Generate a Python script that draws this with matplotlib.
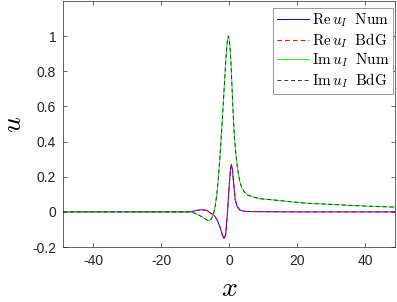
import numpy as np
import matplotlib
matplotlib.use('Agg')
import matplotlib.pyplot as plt

plt.rcParams['mathtext.fontset'] = 'cm'
plt.rcParams['font.family'] = ['Liberation Sans', 'DejaVu Sans']

# values
x_re = [-48.8, -20, -12, -10.5, -9, -8, -7, -6.2, -5.5, -4.8, -4.1, -3.4, -2.6, -2.0,
        -1.5, -1.0, -0.45, 0.0, 0.4, 0.7, 1.0, 1.4, 1.8, 2.4, 3.2, 4.5, 6, 10, 20, 48.8]
re_u = [0.0, 0.0, 0.0, 0.004, 0.010, 0.012, 0.010, 0.004, -0.006, -0.015, -0.027, -0.05, -0.09, -0.13,
        -0.152, -0.13, 0.0, 0.14, 0.24, 0.27, 0.24, 0.15, 0.07, 0.03, 0.01, 0.003, 0.002, 0.001, 0.0, 0.0]

x_im = [-48.8, -20, -12, -11, -10, -9, -8, -7, -6.1, -5.2, -4.6, -4.1, -3.6, -3.2, -2.8,
        -2.4, -2.0, -1.6, -1.3, -1.0, -0.7, -0.45, -0.2, 0.05, 0.3, 0.55, 0.8, 1.05, 1.3,
        1.6, 2.0, 2.4, 2.8, 3.2, 3.8, 4.5, 5.5, 7, 9, 13, 18, 23, 32.6, 40, 48.8]
im_u = [0.0, 0.0, 0.0, -0.002, -0.008, -0.017, -0.028, -0.040, -0.051, -0.040, -0.015, 0.03, 0.10, 0.18, 0.28,
        0.40, 0.52, 0.65, 0.75, 0.85, 0.93, 0.98, 1.0, 0.98, 0.93, 0.85, 0.74, 0.62, 0.52,
        0.42, 0.33, 0.26, 0.21, 0.17, 0.135, 0.113, 0.096, 0.085, 0.075, 0.068, 0.058, 0.049, 0.040, 0.033, 0.027]

xticks = [-40, -20, 0, 20, 40]
yticks = [-0.2, 0, 0.2, 0.4, 0.6, 0.8, 1]
ytick_labels = ['-0.2', '0', '0.2', '0.4', '0.6', '0.8', '1']

fig = plt.figure(figsize=(3.97, 3.02), dpi=100)
ax = fig.add_axes([0.159, 0.182, 0.836, 0.815])

ax.plot(x_re, re_u, color='#0000ff', lw=0.7, label=r'$\mathrm{Re}\,u_I\;\ \mathrm{Num}$')
ax.plot(x_re, re_u, '--', color='#ff0000', lw=0.8, dashes=(4, 3), label=r'$\mathrm{Re}\,u_I\;\ \mathrm{BdG}$')
ax.plot(x_im, im_u, color='#22ee22', lw=0.7, label=r'$\mathrm{Im}\,u_I\;\ \mathrm{Num}$')
ax.plot(x_im, im_u, '--', color='#333333', lw=0.7, dashes=(4, 3), label=r'$\mathrm{Im}\,u_I\;\ \mathrm{BdG}$')

ax.set_xlim(-48.8, 48.8)
ax.set_ylim(-0.2, 1.2)
ax.set_xticks(xticks)
ax.set_xticklabels([str(t) for t in xticks])
ax.set_yticks(yticks)
ax.set_yticklabels(ytick_labels)
ax.tick_params(direction='in', top=True, right=True, labelsize=10, colors='#262626',
               length=3, width=0.5, pad=5)
for s in ax.spines.values():
    s.set_linewidth(0.5)
    s.set_color('#262626')

ax.set_xlabel(r'$x$', fontsize=20, labelpad=6)
ax.set_ylabel(r'$u$', fontsize=20, labelpad=4)

leg = ax.legend(loc='upper right', bbox_to_anchor=(393 / 397, 1 - 8 / 302),
                bbox_transform=fig.transFigure, fontsize=11, frameon=True, fancybox=False,
                handlelength=2.1, handletextpad=0.2, borderpad=0.25, labelspacing=0.12,
                borderaxespad=0)
leg.get_frame().set_edgecolor('#888888')
leg.get_frame().set_linewidth(0.6)
leg.get_frame().set_alpha(1)

fig.savefig('out.png', dpi=100)
